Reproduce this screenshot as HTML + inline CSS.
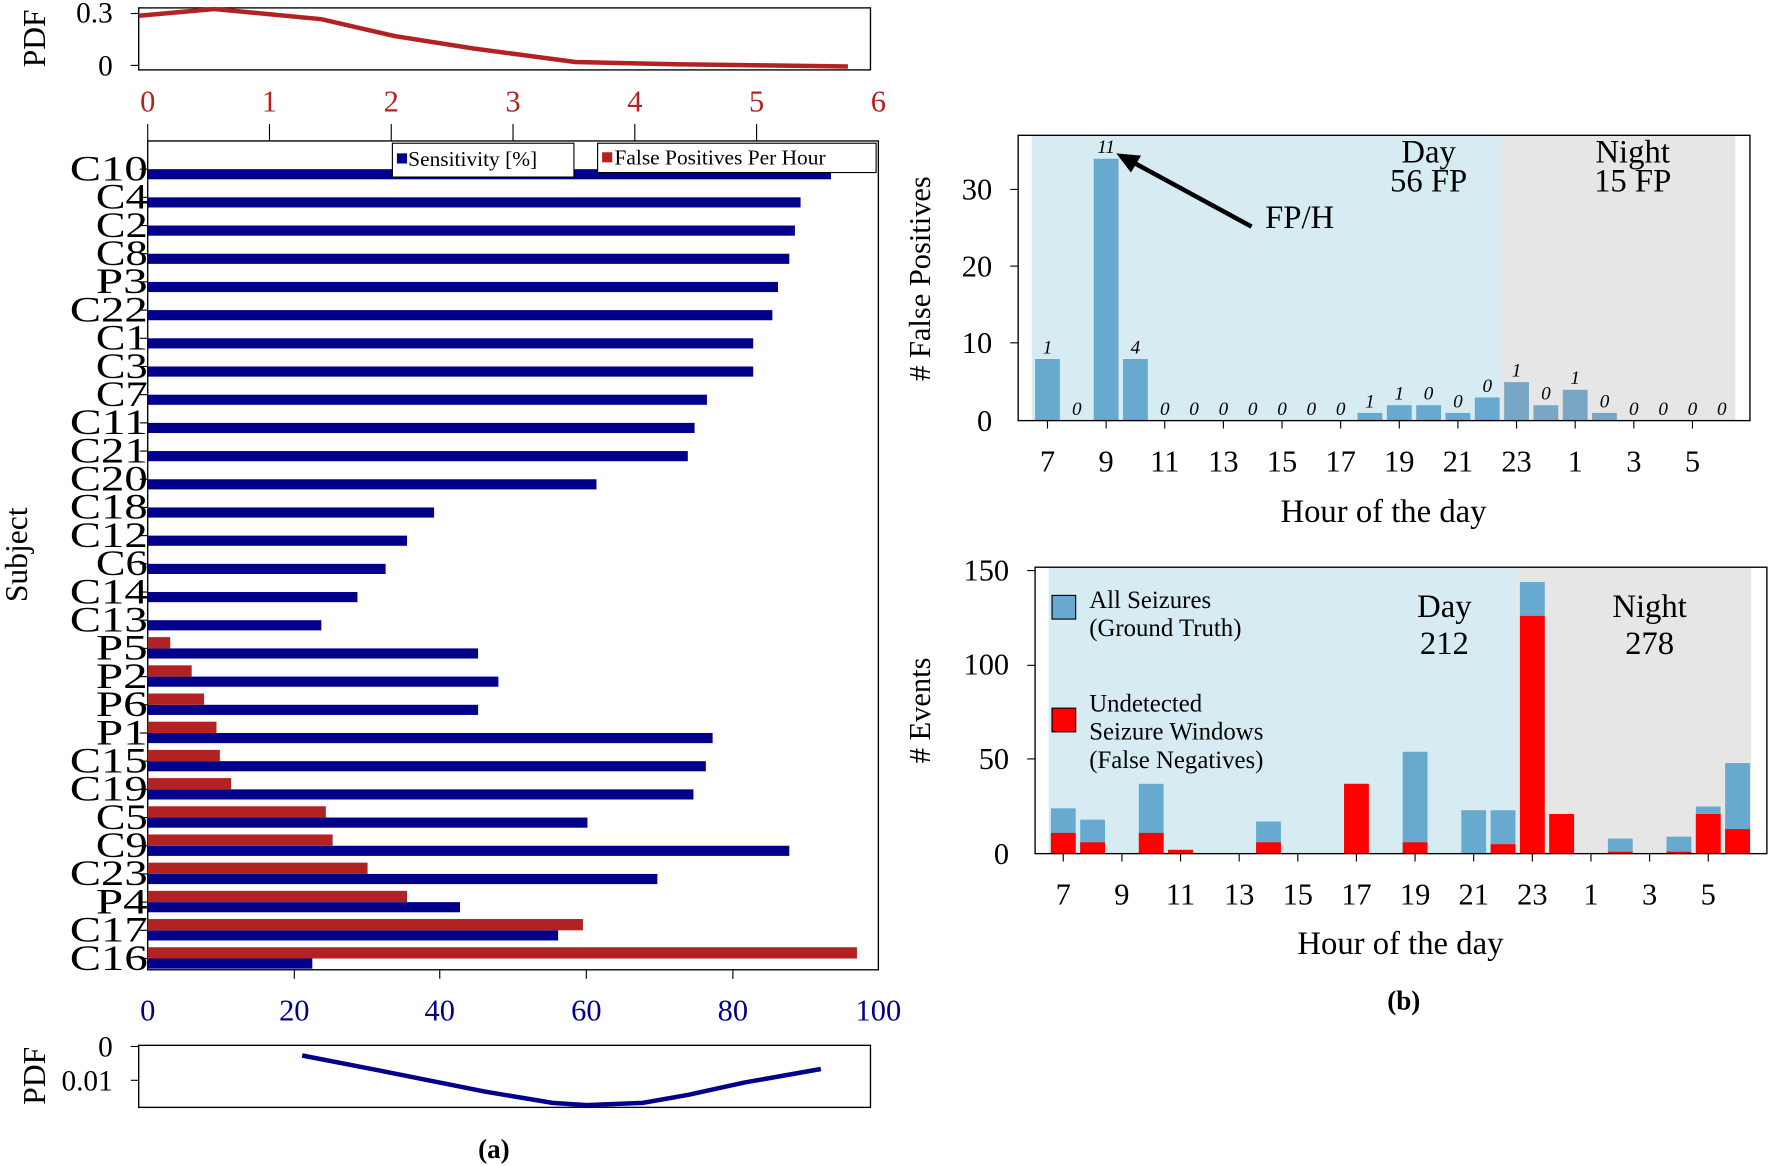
<!DOCTYPE html>
<html><head><meta charset="utf-8"><style>
html,body{margin:0;padding:0;background:#fff}
svg{display:block}
text{font-family:"Liberation Serif",serif}
</style></head><body>
<svg width="1768" height="1166" viewBox="0 0 1568 1034" preserveAspectRatio="none" xmlns="http://www.w3.org/2000/svg">
<rect x="123" y="7" width="649" height="55" fill="none" stroke="#000" stroke-width="1.2"/>
<polyline fill="none" stroke="#b22222" stroke-width="4" points="123,14 190,8 285,17 350,32 420,43 510,55 600,57 680,58 752,59"/>
<text x="100" y="20" font-size="26" text-anchor="end">0.3</text>
<text x="100" y="67" font-size="26" text-anchor="end">0</text>
<line x1="116" y1="12" x2="123" y2="12" stroke="#000"/><line x1="116" y1="58" x2="123" y2="58" stroke="#000"/>
<text transform="translate(40,34) rotate(-90)" font-size="28" text-anchor="middle">PDF</text>
<g font-size="27" text-anchor="middle" style="fill:#b22222">
<text x="131" y="99">0</text><text x="239" y="99">1</text><text x="347" y="99">2</text><text x="455" y="99">3</text><text x="563" y="99">4</text><text x="671" y="99">5</text><text x="779" y="99">6</text>
</g>
<g stroke="#000"><line x1="131" y1="110" x2="131" y2="125"/><line x1="239" y1="110" x2="239" y2="125"/><line x1="347" y1="110" x2="347" y2="125"/><line x1="455" y1="110" x2="455" y2="125"/><line x1="563" y1="110" x2="563" y2="125"/><line x1="671" y1="110" x2="671" y2="125"/></g>
<rect x="131" y="125" width="648" height="735" fill="none" stroke="#000" stroke-width="1.2"/>
<g id="bars"></g>
<text transform="translate(24,492) rotate(-90)" font-size="28" text-anchor="middle">Subject</text>
<g font-size="27" text-anchor="middle" style="fill:#00008b">
<text x="131" y="905">0</text><text x="261" y="905">20</text><text x="390" y="905">40</text><text x="520" y="905">60</text><text x="650" y="905">80</text><text x="779" y="905">100</text>
</g>
<g stroke="#000"><line x1="261" y1="860" x2="261" y2="868"/><line x1="390" y1="860" x2="390" y2="868"/><line x1="520" y1="860" x2="520" y2="868"/><line x1="650" y1="860" x2="650" y2="868"/></g>
<rect x="348" y="127" width="161" height="30" fill="#fff" stroke="#000"/>
<rect x="352" y="136" width="9" height="9" fill="#00008b"/>
<text x="362" y="147" font-size="19">Sensitivity [%]</text>
<rect x="530" y="127" width="247" height="26" fill="#fff" stroke="#000"/>
<rect x="534" y="135" width="9" height="9" fill="#b22222"/>
<text x="545" y="146" font-size="19">False Positives Per Hour</text>
<rect x="123" y="927" width="649" height="55" fill="none" stroke="#000" stroke-width="1.2"/>
<polyline fill="none" stroke="#00008b" stroke-width="4" points="268,936 340,950 430,968 490,978 520,980 570,978 610,971 660,960 728,948"/>
<text x="100" y="937" font-size="26" text-anchor="end">0</text>
<text x="100" y="967" font-size="26" text-anchor="end">0.01</text>
<line x1="116" y1="928" x2="123" y2="928" stroke="#000"/><line x1="116" y1="958" x2="123" y2="958" stroke="#000"/>
<text transform="translate(40,954) rotate(-90)" font-size="28" text-anchor="middle">PDF</text>
<text x="438" y="1027" font-size="24" font-weight="bold" text-anchor="middle">(a)</text>

<rect x="915" y="120" width="416" height="253" fill="#d6ebf2"/>
<rect x="1331" y="120" width="208" height="253" fill="#e6e6e6"/>
<g id="fp"></g>
<rect x="903" y="120" width="649" height="253" fill="none" stroke="#000" stroke-width="1.2"/>
<g font-size="27" text-anchor="end">
<text x="880" y="382">0</text><text x="880" y="313">10</text><text x="880" y="245">20</text><text x="880" y="177">30</text></g>
<g stroke="#000"><line x1="896" y1="304" x2="903" y2="304"/><line x1="896" y1="236" x2="903" y2="236"/><line x1="896" y1="168" x2="903" y2="168"/></g>
<text transform="translate(825,247) rotate(-90)" font-size="27" text-anchor="middle"># False Positives</text>
<text x="1227" y="463" font-size="29" text-anchor="middle">Hour of the day</text>
<text x="1267" y="144" font-size="29" text-anchor="middle">Day</text>
<text x="1267" y="170" font-size="29" text-anchor="middle">56 FP</text>
<text x="1448" y="144" font-size="29" text-anchor="middle">Night</text>
<text x="1448" y="170" font-size="29" text-anchor="middle">15 FP</text>
<text x="1122" y="202" font-size="29">FP/H</text>
<line x1="1110" y1="201" x2="1005" y2="144" stroke="#000" stroke-width="4"/>
<polygon points="990,136 1012,138 1003,153" fill="#000"/>

<rect x="930" y="503" width="416" height="254" fill="#d6ebf2"/>
<rect x="1346" y="503" width="207" height="254" fill="#e6e6e6"/>
<g id="ev"></g>
<rect x="918" y="503" width="649" height="254" fill="none" stroke="#000" stroke-width="1.2"/>
<g font-size="27" text-anchor="end">
<text x="895" y="766">0</text><text x="895" y="682">50</text><text x="895" y="598">100</text><text x="895" y="515">150</text></g>
<g stroke="#000"><line x1="911" y1="673" x2="918" y2="673"/><line x1="911" y1="590" x2="918" y2="590"/><line x1="911" y1="506" x2="918" y2="506"/></g>
<text transform="translate(825,630) rotate(-90)" font-size="27" text-anchor="middle"># Events</text>
<text x="1242" y="846" font-size="29" text-anchor="middle">Hour of the day</text>
<text x="1281" y="547" font-size="29" text-anchor="middle">Day</text>
<text x="1281" y="580" font-size="29" text-anchor="middle">212</text>
<text x="1463" y="547" font-size="29" text-anchor="middle">Night</text>
<text x="1463" y="580" font-size="29" text-anchor="middle">278</text>
<rect x="933" y="528" width="21" height="21" fill="#67a9cf" stroke="#000"/>
<text x="966" y="539" font-size="22">All Seizures</text>
<text x="966" y="564" font-size="22">(Ground Truth)</text>
<rect x="933" y="628" width="21" height="21" fill="#ff0000" stroke="#000"/>
<text x="966" y="631" font-size="22">Undetected</text>
<text x="966" y="656" font-size="22">Seizure Windows</text>
<text x="966" y="681" font-size="22">(False Negatives)</text>
<text x="1245" y="895" font-size="24" font-weight="bold" text-anchor="middle">(b)</text>
</svg>
<script>
var NS="http://www.w3.org/2000/svg";
function el(p,t,a,txt){var e=document.createElementNS(NS,t);for(var k in a)e.setAttribute(k,a[k]);if(txt!=null)e.textContent=txt;p.appendChild(e);return e;}
var names=["C10","C4","C2","C8","P3","C22","C1","C3","C7","C11","C21","C20","C18","C12","C6","C14","C13","P5","P2","P6","P1","C15","C19","C5","C9","C23","P4","C17","C16"];
var blue=[737,710,705,700,690,685,668,668,627,616,610,529,385,361,342,317,285,424,442,424,632,626,615,521,700,583,408,495,277];
var red={P5:151,P2:170,P6:181,P1:192,C15:195,C19:205,C5:289,C9:295,C23:326,P4:361,C17:517,C16:760};
var g=document.getElementById("bars");
var step=(850-150)/28;
for(var i=0;i<names.length;i++){var y=150+i*step;
 el(g,"rect",{x:131,y:y,width:blue[i]-131,height:9,fill:"#00008b"});
 if(red[names[i]])el(g,"rect",{x:131,y:y-10,width:red[names[i]]-131,height:10,fill:"#b22222"});
 el(g,"line",{x1:124,y1:y,x2:131,y2:y,stroke:"#000"});
 var L=names[i].length*23;
 el(g,"text",{x:131-L,y:y+10,"font-size":32,textLength:L,lengthAdjust:"spacingAndGlyphs"},names[i]);
}
var fg=document.getElementById("fp");
var fpv=[8,0,34,8,0,0,0,0,0,0,0,1,2,2,1,3,5,2,4,1,0,0,0,0];
var fpl=["1","0","11","4","0","0","0","0","0","0","0","1","1","0","0","0","1","0","1","0","0","0","0","0"];
for(var h=0;h<24;h++){var cx=929+h*26;
 var hh=fpv[h]*6.83;var col=h>=16&&h<=19?"#7aa6c6":"#67a9cf";
 if(hh>0)el(fg,"rect",{x:cx-11,y:373-hh,width:22,height:hh,fill:col});
 el(fg,"text",{x:cx,y:373-hh-5,"font-size":17,"font-style":"italic","text-anchor":"middle"},fpl[h]);
 if(h%2==0){el(fg,"line",{x1:cx,y1:373,x2:cx,y2:380,stroke:"#000"});
  el(fg,"text",{x:cx,y:418,"font-size":27,"text-anchor":"middle"},String((7+h)%24));}
}
var eg=document.getElementById("ev");
var bl=[24,18,0,37,2,0,0,17,0,0,37,0,54,0,23,23,144,21,0,8,0,9,25,48];
var rd=[11,6,0,11,2,0,0,6,0,0,37,0,6,0,0,5,126,21,0,1,0,1,21,13];
for(var h=0;h<24;h++){var cx=943+h*26;
 if(bl[h]>0)el(eg,"rect",{x:cx-11,y:757-bl[h]*1.673,width:22,height:bl[h]*1.673,fill:"#67a9cf"});
 if(rd[h]>0)el(eg,"rect",{x:cx-11,y:757-rd[h]*1.673,width:22,height:rd[h]*1.673,fill:"#ff0000"});
 if(h%2==0){el(eg,"line",{x1:cx,y1:757,x2:cx,y2:764,stroke:"#000"});
  el(eg,"text",{x:cx,y:802,"font-size":27,"text-anchor":"middle"},String((7+h)%24));}
}
</script>
</body></html>
